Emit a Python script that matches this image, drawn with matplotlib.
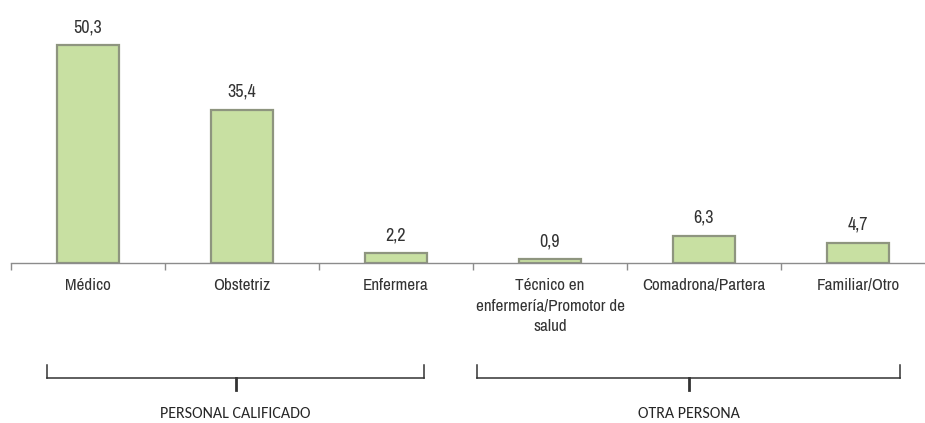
import matplotlib
matplotlib.use("Agg")
import matplotlib.pyplot as plt
from matplotlib.lines import Line2D

categories = ["Médico", "Obstetriz", "Enfermera",
              "Técnico en\nenfermería/Promotor de\nsalud",
              "Comadrona/Partera", "Familiar/Otro"]
values = [50.3, 35.4, 2.2, 0.9, 6.3, 4.7]
value_labels = ["50,3", "35,4", "2,2", "0,9", "6,3", "4,7"]
groups = ["PERSONAL CALIFICADO", "OTRA PERSONA"]

narrow = ["Archivo Narrow", "DejaVu Sans"]
group_font = ["Carlito", "DejaVu Sans"]
text_color = "#333333"

W, H = 925, 423
fig = plt.figure(figsize=(W / 100, H / 100), dpi=100)
ax = fig.add_axes([11 / W, (H - 263) / H, 924 / W, 260 / H])

x = list(range(len(categories)))
ax.bar(x, values, width=0.4, color="#c8e0a2", edgecolor="#8e957f",
       linewidth=1.6, zorder=2)
for xi, v, lab in zip(x, values, value_labels):
    ax.annotate(lab, (xi, v), xytext=(0, 7), textcoords="offset points",
                ha="center", va="bottom", fontsize=13, family=narrow, color=text_color)

ax.set_xlim(-0.5, len(categories) - 0.5)
ax.set_ylim(0, 60)
for s in ["top", "right", "left"]:
    ax.spines[s].set_visible(False)
ax.spines["bottom"].set_color("#8c8c8c")
ax.spines["bottom"].set_linewidth(1.0)
ax.spines["bottom"].set_zorder(3)
ax.set_yticks([])
ax.set_xticks([i - 0.5 for i in range(len(categories) + 1)])
ax.set_xticklabels([])
ax.tick_params(axis="x", direction="out", length=5, color="#8c8c8c", width=1)
for xi, c in zip(x, categories):
    ax.annotate(c, (xi, 0), xytext=(0, -11), textcoords="offset points",
                ha="center", va="top", fontsize=12.3, family=narrow,
                color=text_color, linespacing=1.45)

# Group brackets beneath the category labels
def bracket(x0, x1, label):
    y = 1 - 378 / H
    yt = 1 - 365 / H
    yc = 1 - 390 / H
    xm = (x0 + x1) / 2
    kw = dict(color="#333333", lw=1.1, transform=fig.transFigure)
    fig.add_artist(Line2D([x0 / W, x1 / W], [y, y], **kw))
    fig.add_artist(Line2D([x0 / W, x0 / W], [y, yt], **kw))
    fig.add_artist(Line2D([x1 / W, x1 / W], [y, yt], **kw))
    fig.add_artist(Line2D([xm / W, xm / W], [y, yc], lw=2, color="#333333",
                          transform=fig.transFigure))
    fig.text(xm / W, 1 - 414 / H, label, ha="center", va="center",
             fontsize=11.5, family=group_font, color="#262626")

bracket(47, 424, groups[0])
bracket(477, 900, groups[1])

fig.savefig("out.png", dpi=100)
